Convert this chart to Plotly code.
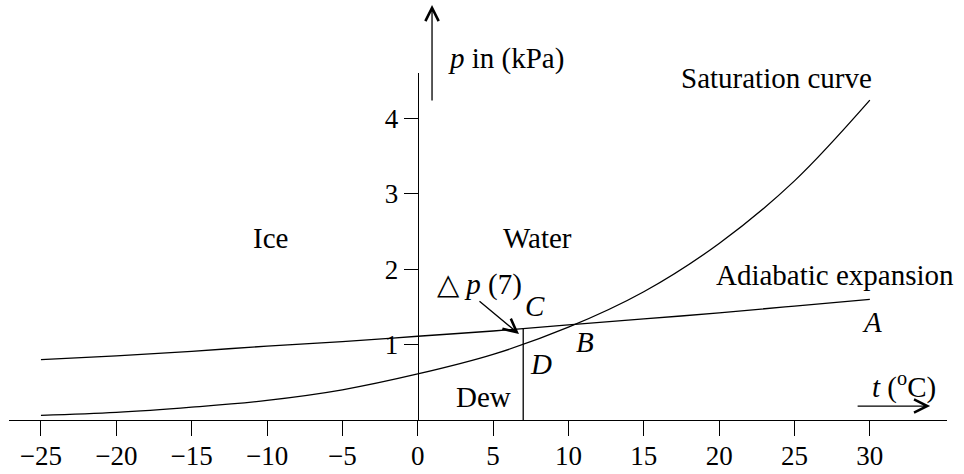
import plotly.graph_objects as go

# ---- data ----
t_sat = [-25, -20, -15, -10, -5, 0, 5, 10, 15, 20, 25, 30]
p_sat = [0.06, 0.10, 0.17, 0.26, 0.40, 0.61, 0.87, 1.23, 1.70, 2.34, 3.17, 4.24]

t_adi = [-25, -20, -15, -10, -5, 0, 5, 10, 15, 20, 25, 30]
p_adi = [0.80, 0.85, 0.91, 0.98, 1.04, 1.11, 1.18, 1.26, 1.34, 1.42, 1.51, 1.60]

t_dew = [7, 7]
p_dew = [0.0, 1.22]

x_ticks = [-25, -20, -15, -10, -5, 0, 5, 10, 15, 20, 25, 30]
y_ticks = [1, 2, 3, 4]

FONT = "Liberation Serif"
LW = 1.3

fig = go.Figure()
line_style = dict(color="black", width=LW)
fig.add_trace(go.Scatter(x=t_sat, y=p_sat, mode="lines",
                         line=dict(color="black", width=LW, shape="spline"),
                         hoverinfo="skip", showlegend=False, cliponaxis=False))
fig.add_trace(go.Scatter(x=t_adi, y=p_adi, mode="lines",
                         line=dict(color="black", width=LW, shape="spline"),
                         hoverinfo="skip", showlegend=False, cliponaxis=False))
fig.add_trace(go.Scatter(x=t_dew, y=p_dew, mode="lines", line=line_style,
                         hoverinfo="skip", showlegend=False, cliponaxis=False))

X_RANGE = [-27.12, 35.12]
Y_RANGE = [0, 4.6]
y_axis_pos = (0 - X_RANGE[0]) / (X_RANGE[1] - X_RANGE[0])

fig.update_layout(
    width=964, height=474, autosize=False,
    margin=dict(l=9, r=17, t=73, b=54, pad=0, autoexpand=False),
    paper_bgcolor="white", plot_bgcolor="white",
    font=dict(family=FONT, size=28, color="black"),
    showlegend=False,
    xaxis=dict(range=X_RANGE, showgrid=False, zeroline=False, automargin=False,
               showline=True, linecolor="black", linewidth=LW,
               ticks="outside", ticklen=15, tickwidth=LW, tickcolor="black",
               tickvals=x_ticks, tickfont=dict(family=FONT, size=27),
               ticklabelstandoff=-4, fixedrange=True),
    yaxis=dict(range=Y_RANGE, showgrid=False, zeroline=False, automargin=False,
               anchor="free", position=y_axis_pos,
               showline=True, linecolor="black", linewidth=LW,
               ticks="outside", ticklen=14, tickwidth=LW, tickcolor="black",
               tickvals=y_ticks, tickfont=dict(family=FONT, size=27),
               fixedrange=True),
)

def label(text, x, y, yref="y", size=29):
    fig.add_annotation(text=text, x=x, y=y, xref="x", yref=yref,
                       showarrow=False, xanchor="center", yanchor="middle",
                       font=dict(family=FONT, size=size, color="black"))

label("<i>p</i> in (kPa)", 5.83, 1.043, yref="paper")
label("Saturation curve", 23.81, 4.53)
label("Adiabatic expansion", 27.72, 1.92)
label("<i>A</i>", 30.15, 1.30)
label("<i>t</i> (<sup>o</sup>C)", 32.28, 0.46)
label("Ice", -9.79, 2.41)
label("Water", 7.98, 2.41)
label("\u25b3 <i>p</i> (7)", 4.07, 1.79)
label("<i>C</i>", 7.79, 1.51)
label("<i>D</i>", 8.19, 0.74)
label("<i>B</i>", 11.1, 1.03)
label("Dew", 4.34, 0.30)

# arrows
arrow = dict(showarrow=True, arrowhead=5, arrowsize=2.0, arrowwidth=LW,
             arrowcolor="black", text="")
# p axis arrow (above the plot)
fig.add_annotation(x=0.95, y=1.196, xref="x", yref="paper", ax=0, ay=97, **arrow)
# t axis arrow
fig.add_annotation(x=34.0, y=0.185, xref="x", yref="y", ax=-74, ay=0, **arrow)
# delta p arrow
fig.add_annotation(x=6.72, y=1.14, xref="x", yref="y", ax=-41, ay=-34, **arrow)

fig.write_html("out.html", config={"displayModeBar": False},
               post_script="document.body.style.margin='0';")
